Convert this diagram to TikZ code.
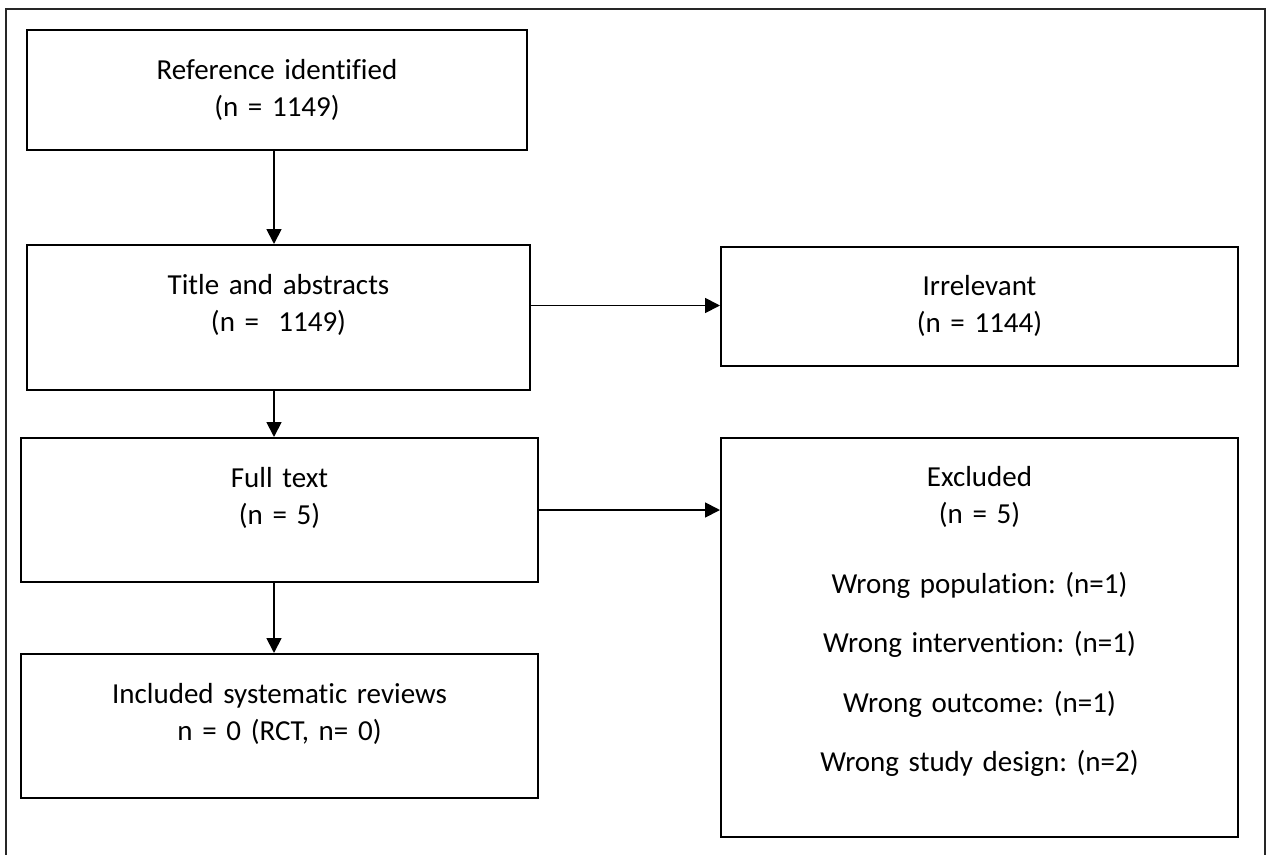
\documentclass[tikz,border=0pt]{standalone}
\usepackage{fontspec}
\setmainfont{Carlito}[Ligatures=NoCommon]
\frenchspacing
\usetikzlibrary{arrows.meta}

\begin{document}
\begin{tikzpicture}[x=1pt,y=-1pt,
    frame/.style={draw,line width=2pt,inner sep=0pt},
    txt/.style={anchor=base,align=center,text width=480pt,inner sep=0pt,
      font=\fontsize{29}{37}\selectfont},
    link/.style={line width=1.8pt,-{Triangle[length=15pt,width=15pt]}}]
  \useasboundingbox (0,0) rectangle (1266,854);
  \draw[line width=1.6pt,black!85] (6,9) rectangle (1265,858);
  % boxes
  \node[frame,minimum width=500pt,minimum height=120pt] (ref) at (277,90) {};
  \node[frame,minimum width=503pt,minimum height=145pt] (title) at (278.5,317.5) {};
  \node[frame,minimum width=517pt,minimum height=119pt] (irrel) at (979.5,306.5) {};
  \node[frame,minimum width=517pt,minimum height=144pt] (full) at (279.5,510) {};
  \node[frame,minimum width=517pt,minimum height=399pt] (excl) at (979.5,637.5) {};
  \node[frame,minimum width=517pt,minimum height=144pt] (incl) at (279.5,726) {};
  % texts
  \node[txt] (reftext) at (277,79) {Reference identified\\(n = 1149)};
  \node[txt] (titletext) at (278.5,294) {Title and abstracts\\(n =~ 1149)};
  \node[txt] (irreltext) at (979.5,295) {Irrelevant\\(n = 1144)};
  \node[txt] (fulltext) at (279.5,487) {Full text\\(n = 5)};
  \node[txt] (excltext) at (979.5,486) {Excluded\\(n = 5)\\[33pt]
    Wrong population: (n=1)\\[22.5pt]
    Wrong intervention: (n=1)\\[22.5pt]
    Wrong outcome: (n=1)\\[22.5pt]
    Wrong study design: (n=2)};
  \node[txt] (incltext) at (279.5,703) {Included systematic reviews\\n = 0 (RCT, n= 0)};
  % arrows
  \coordinate (spine) at (274,0);
  \draw[link] (ref.south -| spine) -- (title.north -| spine);
  \draw[link] ([yshift=12pt]title.east) -- ([yshift=12pt]title.east -| irrel.west);
  \draw[link] (title.south -| spine) -- (full.north -| spine);
  \draw[link] (full.east) -- (full.east -| excl.west);
  \draw[link] (full.south -| spine) -- (incl.north -| spine);
\end{tikzpicture}
\end{document}
